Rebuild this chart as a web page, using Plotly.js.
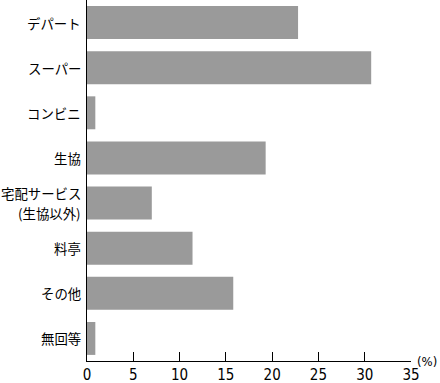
<!DOCTYPE html>
<html>
<head>
<meta charset="utf-8">
<script src="https://cdn.plot.ly/plotly-3.0.1.min.js"></script>
<style>
  html, body { margin: 0; padding: 0; background: #fff; }
  #chart { width: 440px; height: 383px; }
</style>
</head>
<body>
<div id="chart"></div>
<script>
// Purchase channel shares (%)
const categories = ['デパート', 'スーパー', 'コンビニ', '生協', '宅配サービス\n(生協以外)', '料亭', 'その他', '無回等'];
const shares = [22.8, 30.7, 0.9, 19.3, 7.0, 11.4, 15.8, 0.9];
const xTicks = [0, 5, 10, 15, 20, 25, 30, 35];

const jpFont = '"Noto Sans CJK JP", "Noto Sans", sans-serif';
const numFont = '"Liberation Sans Narrow", "DejaVu Sans Condensed", "Liberation Sans", sans-serif';

const trace = {
  type: 'bar',
  orientation: 'h',
  x: shares,
  y: categories,
  marker: { color: '#9a9a9a', line: { width: 0 } },
  hoverinfo: 'none'
};

// Category labels: one annotation per text line, so two-line labels get
// a roomier line spacing than the default tick label layout.
const lineGap = 20;
const labelAnnotations = [];
categories.forEach(cat => {
  const lines = cat.split('\n');
  lines.forEach((line, i) => {
    labelAnnotations.push({
      text: line,
      xref: 'paper', yref: 'y',
      x: 0, y: cat,
      xanchor: 'right', yanchor: 'middle',
      xshift: -4,
      yshift: ((lines.length - 1) / 2 - i) * lineGap,
      showarrow: false,
      font: { family: jpFont, size: 13.4, color: '#000' }
    });
  });
});

const layout = {
  width: 440,
  height: 383,
  margin: { l: 87, r: 29, t: 0, b: 22, pad: 0 },
  paper_bgcolor: '#fff',
  plot_bgcolor: '#fff',
  showlegend: false,
  bargap: 0.27,
  xaxis: {
    range: [0, 35],
    tickvals: xTicks,
    ticktext: xTicks.map(String),
    ticks: 'inside',
    ticklen: 9,
    tickwidth: 1,
    tickcolor: '#000',
    showline: true,
    linecolor: '#000',
    linewidth: 1,
    showgrid: false,
    zeroline: false,
    tickfont: { family: numFont, size: 15, color: '#000' },
    fixedrange: true
  },
  yaxis: {
    autorange: 'reversed',
    showline: true,
    linecolor: '#000',
    linewidth: 1,
    ticks: '',
    showticklabels: false,
    showgrid: false,
    zeroline: false,
    fixedrange: true
  },
  annotations: labelAnnotations.concat([{
    text: '(%)',
    xref: 'paper', yref: 'paper',
    x: 1, y: 0,
    xanchor: 'left', yanchor: 'middle',
    xshift: 4, yshift: 0,
    showarrow: false,
    font: { family: numFont, size: 13, color: '#000' }
  }])
};

Plotly.newPlot('chart', [trace], layout, { displayModeBar: false, staticPlot: true });
</script>
</body>
</html>
